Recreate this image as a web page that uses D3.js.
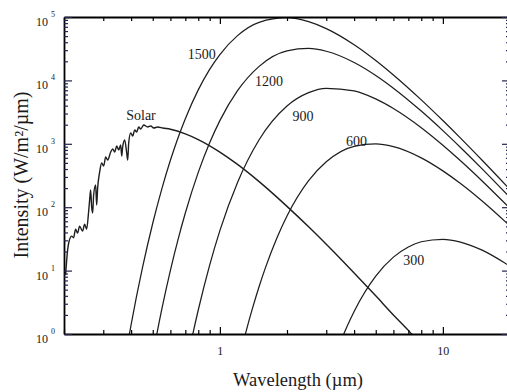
<!DOCTYPE html>
<html>
<head>
<meta charset="utf-8">
<script src="https://cdn.jsdelivr.net/npm/d3@7"></script>
<style>
  body { margin: 0; background: #fff; }
  svg { display: block; }
  text { font-family: "Liberation Serif", "DejaVu Serif", serif; fill: #1a1a1a; }
</style>
</head>
<body>
<div id="chart"></div>
<script>
// blackbody curves (wavelength in um, intensity in W/m2/um)
const lam1500 = [0.38, 0.4, 0.45, 0.5, 0.55, 0.6, 0.65, 0.7, 0.8, 0.9, 1, 1.2, 1.5, 2, 2.5, 3, 4, 5, 6, 8, 10, 12, 15, 20];
const int1500 = [0.515, 1.41, 11.2, 55.8, 198, 549, 1258, 2491, 7087, 14899, 25548, 50821, 82427, 97418, 84416, 65635, 36541, 20617, 12189, 4928, 2325, 1229, 550, 190];

const lam1200 = [0.5, 0.55, 0.6, 0.65, 0.7, 0.8, 0.9, 1, 1.2, 1.5, 2, 2.5, 3, 4, 5, 6, 8, 10, 12, 15, 20];
const int1200 = [0.461, 2.53, 10.1, 31.4, 81.0, 354, 1037, 2322, 6882, 16653, 29203, 31922, 28819, 19187, 11974, 7549, 3284, 1615, 876, 403, 142];

const lam900 = [0.7, 0.75, 0.8, 0.9, 1, 1.2, 1.5, 2, 2.5, 3, 4, 5, 6, 8, 10, 12, 15, 20];
const int900 = [0.269, 0.872, 2.39, 12.2, 42.7, 246, 1159, 3952, 6410, 7502, 6839, 5104, 3599, 1792, 948, 539, 259, 95.5];

const lam600 = [1.2, 1.3, 1.4, 1.5, 1.6, 1.8, 2, 2.5, 3, 4, 5, 6, 8, 10, 12, 15, 20];
const int600 = [0.315, 0.983, 2.53, 5.62, 11.05, 32.4, 72.6, 262, 520, 913, 998, 901, 600, 374, 236, 125, 50.5];

const lam300 = [3, 3.2, 3.5, 3.7, 4, 5, 6, 7, 8, 10, 12, 15, 20];
const int300 = [0.176, 0.345, 0.797, 1.27, 2.27, 8.18, 16.3, 23.6, 28.5, 31.2, 28.2, 21.0, 11.7];

// solar spectrum
const lamSolar = [0.2033, 0.2076, 0.2098, 0.2163, 0.2208, 0.2254, 0.2301, 0.2349, 0.2424, 0.2474,
  0.2526, 0.2578, 0.2606, 0.2633, 0.2661, 0.2689, 0.2716, 0.2773, 0.2802, 0.2831,
  0.2890, 0.2951, 0.3013, 0.3075, 0.3140, 0.3239, 0.3307, 0.3376, 0.3446, 0.3518,
  0.3591, 0.3629, 0.3666, 0.3743, 0.3821, 0.3861, 0.3901, 0.3982, 0.4066, 0.4150,
  0.4237, 0.4325, 0.4416, 0.4556, 0.4749, 0.4898, 0.5051, 0.5265, 0.5545,
  0.6, 0.7, 0.8, 1, 1.2, 1.5, 2, 2.5, 3, 3.5, 4, 5, 6, 7, 8];
const intSolar = [8.5, 21, 27, 35, 33, 45, 39, 50, 42, 54,
  45, 84, 130, 187, 101, 81, 156, 224, 108, 201,
  359, 498, 446, 619, 555, 742, 828, 742, 923, 798,
  957, 642, 891, 1148, 716, 555, 1030, 1481, 1327, 1652,
  1535, 1841, 1711, 1982, 1841, 1909, 1775, 1841, 1775,
  1699, 1438, 1168, 741, 473, 253, 103, 49, 26, 15, 9.2, 4.0, 2.0, 1.14, 0.68];

const seriesNames = ['1500', '1200', '900', '600', '300', 'Solar'];
const xMajorTicks = [1, 10];
const yMajorTicks = [1, 10, 100, 1000, 10000, 100000];

const width = 507, height = 392;
const margin = { top: 17, right: -3, bottom: 58, left: 64 };
const plotW = width - margin.left - margin.right;
const plotH = height - margin.top - margin.bottom;

const series = [
  { name: '1500', lam: lam1500, val: int1500, at: [0.83, 21800] },
  { name: '1200', lam: lam1200, val: int1200, at: [1.66, 8200] },
  { name: '900', lam: lam900, val: int900, at: [2.36, 2300] },
  { name: '600', lam: lam600, val: int600, at: [4.1, 920] },
  { name: '300', lam: lam300, val: int300, at: [7.4, 12.2] },
  { name: 'Solar', lam: lamSolar, val: intSolar, at: [0.443, 2400] }
];

const svg = d3.select('#chart').append('svg')
  .attr('width', width)
  .attr('height', height);

const x = d3.scaleLog().domain([0.2, 20]).range([margin.left, margin.left + plotW]);
const y = d3.scaleLog().domain([1, 1e5]).range([margin.top + plotH, margin.top]);

svg.append('clipPath').attr('id', 'plot-clip')
  .append('rect')
  .attr('x', margin.left).attr('y', margin.top)
  .attr('width', plotW).attr('height', plotH);

const line = d3.line()
  .x(d => x(d[0]))
  .y(d => y(d[1]))
  .curve(d3.curveMonotoneX);

const curves = svg.append('g').attr('clip-path', 'url(#plot-clip)');
curves.selectAll('path')
  .data(series)
  .join('path')
  .attr('fill', 'none')
  .attr('stroke', '#1e1e1e')
  .attr('stroke-width', d => d.name === 'Solar' ? 1.4 : 1.25)
  .attr('stroke-linejoin', 'round')
  .attr('d', d => line(d.lam.map((l, i) => [l, d.val[i]])));

// axes: minor ticks everywhere, major ticks longer, all pointing inward
const xMinor = x.ticks().filter(t => !xMajorTicks.includes(t));
const yMinor = y.ticks().filter(t => !yMajorTicks.includes(t));
const bottom = margin.top + plotH;
const right = margin.left + plotW;

function styleAxis(g, color) {
  g.select('.domain').attr('stroke', '#000').attr('stroke-width', 1.8);
  g.selectAll('.tick line').attr('stroke', color).attr('stroke-width', 1.2);
}

const xb = svg.append('g').attr('transform', `translate(0,${bottom})`)
  .call(d3.axisBottom(x).tickValues(xMajorTicks).tickSize(-7).tickSizeOuter(0)
    .tickPadding(12).tickFormat(d3.format('d')));
styleAxis(xb, '#000');
xb.selectAll('text').attr('font-size', 12).attr('fill', '#222')
  .attr('font-family', '"Liberation Serif", serif');
svg.append('g').attr('transform', `translate(0,${bottom})`)
  .call(d3.axisBottom(x).tickValues(xMinor).tickSize(-4).tickFormat(''))
  .call(g => { g.select('.domain').remove(); styleAxis(g, '#000'); });

const xt = svg.append('g').attr('transform', `translate(0,${margin.top})`)
  .call(d3.axisTop(x).tickValues(xMajorTicks).tickSize(-7).tickSizeOuter(0).tickFormat(''));
styleAxis(xt, '#000');
svg.append('g').attr('transform', `translate(0,${margin.top})`)
  .call(d3.axisTop(x).tickValues(xMinor).tickSize(-4).tickFormat(''))
  .call(g => { g.select('.domain').remove(); styleAxis(g, '#000'); });

const yl = svg.append('g').attr('transform', `translate(${margin.left},0)`)
  .call(d3.axisLeft(y).tickValues(yMajorTicks).tickSize(-8).tickSizeOuter(0).tickFormat(''));
styleAxis(yl, '#22224a');
svg.append('g').attr('transform', `translate(${margin.left},0)`)
  .call(d3.axisLeft(y).tickValues(yMinor).tickSize(-4).tickFormat(''))
  .call(g => { g.select('.domain').remove(); styleAxis(g, '#22224a'); });

const yr = svg.append('g').attr('transform', `translate(${right},0)`)
  .call(d3.axisRight(y).tickValues(yMajorTicks).tickSize(-8).tickSizeOuter(0).tickFormat(''));
styleAxis(yr, '#22224a');
svg.append('g').attr('transform', `translate(${right},0)`)
  .call(d3.axisRight(y).tickValues(yMinor).tickSize(-4).tickFormat(''))
  .call(g => { g.select('.domain').remove(); styleAxis(g, '#22224a'); });

// y tick labels as 10 with superscript exponent
const yLab = svg.append('g').selectAll('text')
  .data(yMajorTicks)
  .join('text')
  .attr('x', margin.left - 28)
  .attr('y', d => y(d) + 9)
  .attr('font-size', 12)
  .attr('fill', '#333');
yLab.append('tspan').text('10');
yLab.append('tspan')
  .attr('dx', 3).attr('dy', -9)
  .attr('font-size', 8)
  .text(d => Math.round(Math.log10(d)));

// curve labels
svg.append('g').selectAll('text')
  .data(series)
  .join('text')
  .attr('x', d => x(d.at[0]))
  .attr('y', d => y(d.at[1]))
  .attr('text-anchor', 'middle')
  .attr('font-size', 14)
  .attr('fill', '#222')
  .text(d => d.name);

// axis titles
svg.append('text')
  .attr('x', 298).attr('y', 386)
  .attr('text-anchor', 'middle')
  .attr('font-size', 18.5)
  .attr('fill', '#222')
  .text('Wavelength (\u00b5m)');

svg.append('text')
  .attr('transform', 'translate(28,175) rotate(-90)')
  .attr('text-anchor', 'middle')
  .attr('font-size', 20)
  .attr('fill', '#222')
  .text('Intensity (W/m\u00b2/\u00b5m)');
</script>
</body>
</html>
